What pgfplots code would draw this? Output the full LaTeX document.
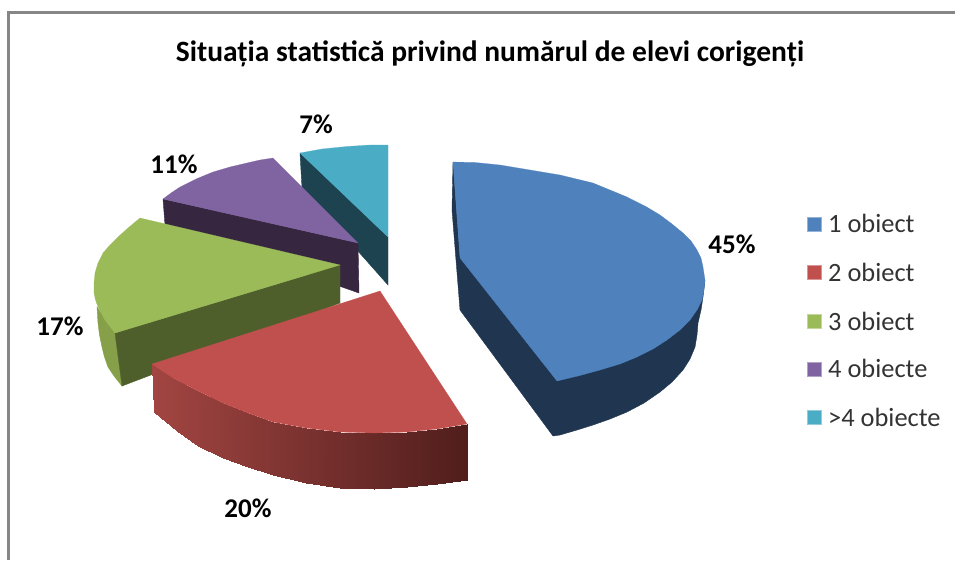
\documentclass[border=0pt]{standalone}
\usepackage{pgfplots}
\pgfplotsset{compat=1.18}
\usepackage{fontspec}
\setmainfont{Carlito}
\definecolor{fb}{HTML}{4F81BD}\definecolor{db}{HTML}{1F3550}
\definecolor{fr}{HTML}{C0504D}
\definecolor{fg}{HTML}{9BBB59}\definecolor{dg}{HTML}{4F5F2C}\definecolor{lg}{HTML}{86A04A}
\definecolor{fp}{HTML}{8064A2}\definecolor{dp}{HTML}{36263F}
\definecolor{fc}{HTML}{4BACC6}\definecolor{dc}{HTML}{1E4350}
\definecolor{bd}{HTML}{868686}
\pgfplotsset{colormap={redside}{rgb255=(162,69,66) rgb255=(80,30,28)}}
\begin{document}
\begin{tikzpicture}
\begin{axis}[scale only axis,width=955pt,height=560pt,xmin=0,xmax=955,ymin=0,ymax=560,y dir=reverse,hide axis,clip=false]
\useasboundingbox (axis cs:0,0) rectangle (axis cs:955,560);
\addplot[draw=bd,line width=2.4pt] coordinates {(8.5,560)(8.5,12.5)(955,12.5)};
% cyan
\addplot[fill=dc,draw=dc] coordinates {(300,153)(302,188)(388,285)(388,237)} -- cycle;
\addplot[fill=fc,draw=fc,line width=0.2pt] coordinates {(300,153)(322,149)(347,146.5)(370,145)(388,145)(388,237)} -- cycle;
% purple
\addplot[fill=dp,draw=dp] coordinates {(163,199)(165,225)(359,293)(358,243)} -- cycle;
\addplot[fill=fp,draw=fp,line width=0.2pt] coordinates {(163,199)(171,193)(180,187)(196,179)(213,172)(230,167)(247,163)(260,160)(273,158)(358,243)} -- cycle;
% green
\addplot[fill=lg,draw=lg] coordinates {(97,307)(98,323)(99.5,335)(102,347)(104.5,357)(108,367)(114,376)(122,386)(115,333)} -- cycle;
\addplot[fill=dg,draw=dg] coordinates {(115,333)(122,386)(340,303)(340,265)} -- cycle;
\addplot[fill=fg,draw=fg,line width=0.2pt] coordinates {(140,218)(128,228)(118,237)(110,245)(103,253)(98,263)(95,273)(94,283)(94,293)(95.5,300)(98,307)(105,320)(115,333)(340,265)} -- cycle;
% red side, shaded
\addplot[patch,patch type=rectangle,shader=interp,colormap name=redside,point meta=x,point meta min=152,point meta max=467] coordinates {
(152,364)(173,378)(177,431)(154,412)
(173,378)(198,391)(198,446)(177,431)
(198,391)(223,403)(223,458)(198,446)
(223,403)(248,413)(248,467)(223,458)
(248,413)(273,422)(273,475)(248,467)
(273,422)(306,428)(306,483)(273,475)
(306,428)(340,432)(340,487.5)(306,483)
(340,432)(374,433)(374,489)(340,487.5)
(374,433)(407,432)(407,487)(374,489)
(407,432)(437,429)(437,484)(407,487)
(437,429)(467,424)(467,480)(437,484)
};
\addplot[fill=fr,draw=fr,line width=0.2pt] coordinates {(380,291)(152,364)(173,378)(198,391)(223,403)(248,413)(273,422)(306,428)(340,432)(374,433)(407,432)(437,429)(467,424)} -- cycle;
% blue
\addplot[fill=db,draw=db] coordinates {(453,162)(452,210)(460,310)(553,436)(560,435)(577,430)(593,425)(610,419)(627,412)(644,403)(660,392)(672,382)(683,370)(690,359)(695,347)(697,335)(698,323)(701,310)(703,297)(705,280)(460,258)} -- cycle;
\addplot[fill=fb,draw=fb,line width=0.2pt] coordinates {(453,162)(475,162.5)(500,165)(530,170)(560,175)(593,183)(610,190)(627,197)(645,206)(660,215)(672,224)(683,233)(691,241)(697,250)(701,258)(703,267)(705,280)(704,290)(702,300)(697,310)(690,320)(680,330)(667,340)(653,349)(637,357)(620,364)(600,370)(580,375.5)(557,381)(460,258)} -- cycle;
% legend keys
\addplot[fill=fb,draw=fb!60!white,line width=0.5pt] coordinates {(807.5,217.5)(821.5,217.5)(821.5,231.5)(807.5,231.5)} -- cycle;
\addplot[fill=fr,draw=fr!60!white,line width=0.5pt] coordinates {(807.5,265.5)(821.5,265.5)(821.5,279.5)(807.5,279.5)} -- cycle;
\addplot[fill=fg,draw=fg!60!white,line width=0.5pt] coordinates {(807.5,314)(821.5,314)(821.5,328)(807.5,328)} -- cycle;
\addplot[fill=fp,draw=fp!60!white,line width=0.5pt] coordinates {(807.5,362)(821.5,362)(821.5,376)(807.5,376)} -- cycle;
\addplot[fill=fc,draw=fc!60!white,line width=0.5pt] coordinates {(807.5,410)(821.5,410)(821.5,424)(807.5,424)} -- cycle;
% text
\node[font=\fontsize{29.5}{29.5}\selectfont\bfseries] at (axis cs:490,54) {Situația statistică privind numărul de elevi corigenți};
\node[font=\fontsize{27}{27}\selectfont\bfseries] at (axis cs:732,244) {45\%};
\node[font=\fontsize{27}{27}\selectfont\bfseries] at (axis cs:248,508) {20\%};
\node[font=\fontsize{27}{27}\selectfont\bfseries] at (axis cs:60,326) {17\%};
\node[font=\fontsize{27}{27}\selectfont\bfseries] at (axis cs:174,164) {11\%};
\node[font=\fontsize{27}{27}\selectfont\bfseries] at (axis cs:316,124) {7\%};
\foreach \t/\y in {1 obiect/223,2 obiect/272,3 obiect/321,4 obiecte/368,>4 obiecte/417}{
  \edef\tmp{\noexpand\node[anchor=west,text=black!80,font=\noexpand\fontsize{26.4}{26.4}\noexpand\selectfont,inner sep=0pt] at (axis cs:828,\y) {\t};}\tmp
}
\end{axis}
\end{tikzpicture}
\end{document}
